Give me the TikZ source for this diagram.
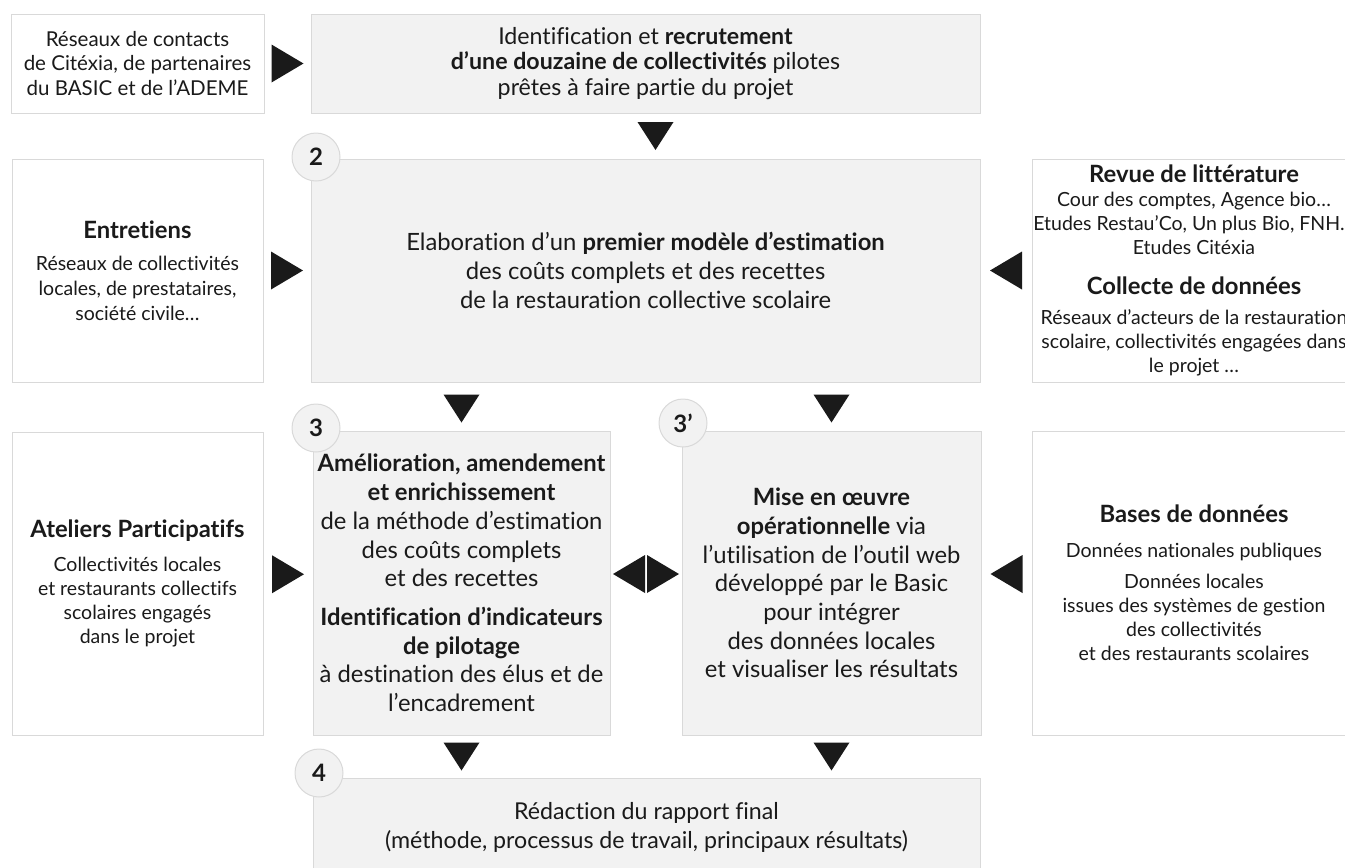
\documentclass[tikz,border=0pt]{standalone}
\usepackage{fontspec}
\setmainfont{Lato}[Ligatures=NoCommon]
\usetikzlibrary{calc}
\definecolor{boxgray}{HTML}{F2F2F2}
\definecolor{edgegray}{HTML}{D9D9D9}
\definecolor{ink}{HTML}{1A1A1A}
\newcommand{\ttl}[1]{{\fontsize{23.8}{24}\selectfont\bfseries #1}}
\begin{document}
\begin{tikzpicture}[x=1pt,y=-1pt,
  basebox/.style={draw=edgegray, line width=1pt, text=ink, align=center, inner sep=0pt},
  graybox/.style={basebox, fill=boxgray},
  whitebox/.style={basebox, fill=white},
  sidefont/.style={font=\fontsize{19.5}{24}\selectfont},
  mainfont/.style={font=\fontsize{23.8}{28.7}\selectfont},
  numcirc/.style={circle, draw=edgegray, fill=boxgray, line width=1pt, minimum size=48pt, inner sep=0pt, font=\fontsize{24}{24}\selectfont\bfseries, text=ink},
  rtri/.pic={\fill[ink] (-16,-19) -- (16,0) -- (-16,19) -- cycle;},
  ltri/.pic={\fill[ink] (16,-19) -- (-16,0) -- (16,19) -- cycle;},
  dtri/.pic={\fill[ink] (-18,-14) -- (18,-14) -- (0,14) -- cycle;}
]
\useasboundingbox (0,0) rectangle (1345,868);
\clip (0,0) rectangle (1345,868);

% row 1
\node[whitebox, font=\fontsize{20.5}{24.5}\selectfont, minimum width=253pt, minimum height=99pt] (tl) at (137.5,63.5)
  {Réseaux de contacts\\de Citéxia, de partenaires\\du BASIC et de l’ADEME};
\node[graybox, font=\fontsize{23.2}{25.5}\selectfont, minimum width=669pt, minimum height=99pt] (b1) at (645.5,63.5)
  {Identification et \textbf{recrutement}\\\textbf{d’une douzaine de collectivités} pilotes\\prêtes à faire partie du projet};

% row 2
\node[whitebox, font=\fontsize{19.5}{25}\selectfont, minimum width=251pt, minimum height=223pt] (en) at (137.5,270.5)
  {\ttl{Entretiens}\\[7pt]Réseaux de collectivités\\locales, de prestataires,\\société civile…};
\node[graybox, mainfont, minimum width=669pt, minimum height=223pt] (b2) at (645.5,270.5)
  {Elaboration d’un \textbf{premier modèle d’estimation}\\des coûts complets et des recettes\\de la restauration collective scolaire};
\node[whitebox, sidefont, minimum width=324pt, minimum height=223pt] (rv) at (1194,270.5)
  {\ttl{Revue de littérature}\\Cour des comptes, Agence bio…\\Etudes Restau’Co, Un plus Bio, FNH…\\Etudes Citéxia\\[16pt]\ttl{Collecte de données}\\[6pt]Réseaux d’acteurs de la restauration\\scolaire, collectivités engagées dans\\le projet …};

% row 3
\node[whitebox, sidefont, minimum width=251pt, minimum height=303pt] (at) at (137.5,583.5)
  {\ttl{Ateliers Participatifs}\\[10pt]Collectivités locales\\et restaurants collectifs\\scolaires engagés\\dans le projet};
\node[graybox, mainfont, minimum width=297pt, minimum height=304pt] (b3) at (461.5,583)
  {\textbf{Amélioration, amendement}\\\textbf{et enrichissement}\\de la méthode d’estimation\\des coûts complets\\et des recettes\\[10pt]\textbf{Identification d’indicateurs}\\\textbf{de pilotage}\\à destination des élus et de\\l’encadrement};
\node[graybox, mainfont, minimum width=299pt, minimum height=304pt] (b3p) at (831.5,583)
  {\textbf{Mise en œuvre}\\\textbf{opérationnelle} via\\l’utilisation de l’outil web\\développé par le Basic\\pour intégrer\\des données locales\\et visualiser les résultats};
\node[whitebox, sidefont, minimum width=324pt, minimum height=304pt] (bd) at (1194,583)
  {\ttl{Bases de données}\\[11pt]Données nationales publiques\\[7pt]Données locales\\issues des systèmes de gestion\\des collectivités\\et des restaurants scolaires};

% row 4
\node[graybox, font=\fontsize{23.2}{29}\selectfont, minimum width=667pt, minimum height=99pt] (b4) at (646.5,827.5)
  {Rédaction du rapport final\\(méthode, processus de travail, principaux résultats)};

% step numbers
\node[numcirc] (c2) at (316,157) {2};
\node[numcirc] (c3) at (316,428) {3};
\node[numcirc] (c3p) at (683,423) {3’};
\node[numcirc] (c4) at (319,773) {4};

% arrowheads
\pic at ($(tl.east)!0.5!(b1.west)$) {rtri};
\pic at ($(b1.south)!0.5!(b1.south |- b2.north) + (10,0)$) {dtri};
\pic at ($(en.east)!0.5!(b2.west)$) {rtri};
\pic at ($(b2.east)!0.5!(rv.west)$) {ltri};
\pic at ($(b3.north |- b2.south)!0.5!(b3.north) + (0,2)$) {dtri};
\pic at ($(b3p.north |- b2.south)!0.5!(b3p.north) + (0,2)$) {dtri};
\pic at ($(at.east)!0.5!(b3.west) + (0,-9)$) {rtri};
\pic at ($(b3.east)!0.5!(b3p.west) + (-17,-9)$) {ltri};
\pic at ($(b3.east)!0.5!(b3p.west) + (17,-9)$) {rtri};
\pic at ($(b3p.east)!0.5!(bd.west) + (0,-9)$) {ltri};
\pic at ($(b3.south)!0.5!(b3.south |- b4.north)$) {dtri};
\pic at ($(b3p.south)!0.5!(b3p.south |- b4.north)$) {dtri};
\end{tikzpicture}
\end{document}
